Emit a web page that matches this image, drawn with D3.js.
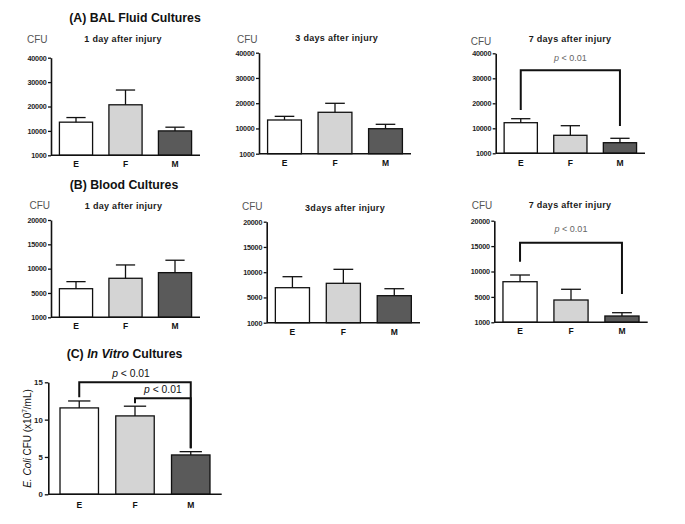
<!DOCTYPE html>
<html><head><meta charset="utf-8">
<script src="https://cdn.jsdelivr.net/npm/d3@7"></script>
<style>
body{margin:0;background:#fff}
svg{display:block;background:#fff}
text{font-family:"Liberation Sans",Arial,Helvetica,sans-serif}
</style>
</head><body>
<svg id="c" width="685" height="524"></svg>
<script>
// ---------- data ----------
const categories = ["E", "F", "M"];

const balDay1 = [13580, 20700, 10000];
const balDay1Sem = [1890, 6050, 1520];
const balDay3 = [13350, 16400, 9900];
const balDay3Sem = [1450, 3560, 1740];
const balDay7 = [12240, 7200, 4240];
const balDay7Sem = [1600, 3840, 1760];

const bloodDay1 = [5880, 8020, 9180];
const bloodDay1Sem = [1450, 2740, 2550];
const bloodDay3 = [6930, 7800, 5350];
const bloodDay3Sem = [2180, 2770, 1380];
const bloodDay7 = [7990, 4390, 1240];
const bloodDay7Sem = [1320, 2110, 650];

const vitro = [11.57, 10.5, 5.27];
const vitroSem = [0.93, 1.3, 0.44];

const balTicks = [0, 10000, 20000, 30000, 40000];
const balTickLabels = ["1000", "10000", "20000", "30000", "40000"];
const bloodTicks = [0, 5000, 10000, 15000, 20000];
const bloodTickLabels = ["1000", "5000", "10000", "15000", "20000"];
const vitroTicks = [0, 5, 10, 15];
const vitroTickLabels = ["0", "5", "10", "15"];

const subtitles = ["1 day after injury", "3 days after injury", "7 days after injury",
                   "1 day after injury", "3days after injury", "7 days after injury"];

// significance brackets: [from, to, bracket level, left leg end, right leg end]
const balDay7Sig = [["E", "M", 33200, 17320, 10920]];
const bloodDay7Sig = [["E", "M", 15670, 11930, 5570]];
const vitroSig = [["E", "M", 15.0, 13.0, 6.17], ["F", "M", 12.87, 12.2, 6.17]];

const barColors = ["#ffffff", "#d4d4d4", "#5a5a5a"];

// ---------- drawing ----------
const svg = d3.select("#c");

function panel(cfg) {
  const g = svg.append("g");
  const x = d3.scaleBand().domain(categories).range([cfg.x0, cfg.x1])
    .paddingInner(cfg.pi).paddingOuter(cfg.po);
  const y = d3.scaleLinear().domain([0, cfg.max]).range([cfg.yb, cfg.yt]);
  const bw = x.bandwidth();

  g.selectAll("rect.bar").data(cfg.values).join("rect")
    .attr("class", "bar")
    .attr("x", (d, i) => x(categories[i]))
    .attr("y", d => y(d))
    .attr("width", bw)
    .attr("height", d => y(0) - y(d))
    .attr("fill", (d, i) => barColors[i])
    .attr("stroke", "#111").attr("stroke-width", 1.3);

  const capW = bw * 0.58;
  const eb = g.selectAll("g.err").data(cfg.values).join("g").attr("class", "err");
  eb.append("line")
    .attr("x1", (d, i) => x(categories[i]) + bw / 2)
    .attr("x2", (d, i) => x(categories[i]) + bw / 2)
    .attr("y1", d => y(d))
    .attr("y2", (d, i) => y(d + cfg.sem[i]))
    .attr("stroke", "#111").attr("stroke-width", 1.3);
  eb.append("line")
    .attr("x1", (d, i) => x(categories[i]) + bw / 2 - capW / 2)
    .attr("x2", (d, i) => x(categories[i]) + bw / 2 + capW / 2)
    .attr("y1", (d, i) => y(d + cfg.sem[i]))
    .attr("y2", (d, i) => y(d + cfg.sem[i]))
    .attr("stroke", "#111").attr("stroke-width", 1.3);

  // y axis
  const ya = g.append("g").attr("transform", `translate(${cfg.x0},0)`)
    .call(d3.axisLeft(y).tickValues(cfg.ticks)
      .tickFormat((d, i) => cfg.tickLabels[i])
      .tickSize(cfg.tickSize).tickSizeOuter(0).tickPadding(cfg.tickPad));
  ya.select(".domain").attr("stroke", "#111").attr("stroke-width", 1.6);
  ya.selectAll(".tick line").attr("stroke", "#111").attr("stroke-width", 1.3);
  ya.selectAll(".tick text").attr("font-size", cfg.tickFont).attr("font-weight", "bold")
    .attr("fill", "#222").attr("font-family", '"Liberation Sans", Arial, sans-serif')
    .attr("letter-spacing", cfg.tickLS || 0);

  // x axis
  const xa = g.append("g").attr("transform", `translate(0,${cfg.yb})`)
    .call(d3.axisBottom(x).tickSize(0).tickSizeOuter(0).tickPadding(cfg.xPad));
  xa.select(".domain").attr("stroke", "#111").attr("stroke-width", 1.6)
    .attr("d", `M${cfg.x0},0H${cfg.x1}`);
  xa.selectAll(".tick text").attr("font-size", cfg.xFont).attr("font-weight", "bold")
    .attr("fill", "#111").attr("font-family", '"Liberation Sans", Arial, sans-serif');

  // subtitle
  if (cfg.subtitle) {
    g.append("text").attr("x", cfg.subX).attr("y", cfg.subY)
      .attr("text-anchor", "middle").attr("font-size", 9).attr("font-weight", "bold")
      .attr("letter-spacing", 0.3).attr("fill", "#1a1a1a").text(cfg.subtitle);
  }
  if (cfg.cfuX !== undefined) {
    g.append("text").attr("x", cfg.cfuX).attr("y", cfg.cfuY)
      .attr("font-size", 10).attr("fill", "#555").text("CFU");
  }

  // significance brackets
  (cfg.sig || []).forEach((s, k) => {
    const xl = x(s[0]) + bw / 2, xr = x(s[1]) + bw / 2;
    g.append("path")
      .attr("d", `M${xl},${y(s[3])}V${y(s[2])}H${xr}V${y(s[4])}`)
      .attr("fill", "none").attr("stroke", "#111").attr("stroke-width", 2);
    const lab = cfg.sigLabels[k];
    const t = g.append("text").attr("x", lab.dx !== undefined ? lab.dx + (xl + xr) / 2 : (xl + xr) / 2)
      .attr("y", y(s[2]) - lab.off)
      .attr("text-anchor", "middle").attr("font-size", lab.size).attr("fill", lab.color);
    t.append("tspan").attr("font-style", "italic").text("p");
    t.append("tspan").text(" < 0.01");
  });
  return { x, y };
}

const common = { pi: 0.33, po: 0.17, tickSize: 3, tickPad: 1.5, tickFont: 7.2, xFont: 8.5, tickLS: -0.2 };

// (A) BAL
panel(Object.assign({}, common, { x0: 51, x1: 200, yt: 57.7, yb: 155.3, max: 40000,
  values: balDay1, sem: balDay1Sem, ticks: balTicks, tickLabels: balTickLabels,
  xPad: 5.6, subtitle: subtitles[0], subX: 123, subY: 42, cfuX: 27, cfuY: 42.7 }));
panel(Object.assign({}, common, { x0: 259, x1: 411, yt: 52.7, yb: 153.7, max: 40000,
  values: balDay3, sem: balDay3Sem, ticks: balTicks, tickLabels: balTickLabels,
  xPad: 6, subtitle: subtitles[1], subX: 336.7, subY: 41, cfuX: 237, cfuY: 42.7 }));
panel(Object.assign({}, common, { x0: 495.7, x1: 645, yt: 53.3, yb: 153.3, max: 40000,
  values: balDay7, sem: balDay7Sem, ticks: balTicks, tickLabels: balTickLabels,
  xPad: 6.3, subtitle: subtitles[2], subX: 570, subY: 41.5, cfuX: 470.7, cfuY: 45,
  sig: balDay7Sig, sigLabels: [{ off: 9, size: 9, color: "#666" }] }));

// (B) Blood
panel(Object.assign({}, common, { x0: 51, x1: 200, yt: 220, yb: 317.3, max: 20000,
  values: bloodDay1, sem: bloodDay1Sem, ticks: bloodTicks, tickLabels: bloodTickLabels,
  xPad: 6, subtitle: subtitles[3], subX: 123.5, subY: 209, cfuX: 29.5, cfuY: 209.3 }));
panel(Object.assign({}, common, { x0: 266.7, x1: 420, yt: 221.7, yb: 322.7, max: 20000,
  values: bloodDay3, sem: bloodDay3Sem, ticks: bloodTicks, tickLabels: bloodTickLabels,
  xPad: 5.8, subtitle: subtitles[4], subX: 345, subY: 211, cfuX: 242, cfuY: 210.3 }));
panel(Object.assign({}, common, { x0: 494.3, x1: 647.7, yt: 220.7, yb: 322.3, max: 20000,
  values: bloodDay7, sem: bloodDay7Sem, ticks: bloodTicks, tickLabels: bloodTickLabels,
  xPad: 5.2, subtitle: subtitles[5], subX: 570, subY: 208, cfuX: 471.7, cfuY: 208.7,
  sig: bloodDay7Sig, sigLabels: [{ off: 11, size: 9, color: "#666" }] }));

// (C) In vitro
panel(Object.assign({}, common, { x0: 48.3, x1: 221.7, yt: 382.3, yb: 494.3, max: 15,
  pi: 0.31, po: 0.21, tickSize: 3.5, tickPad: 2, tickFont: 7.8, tickLS: 0,
  values: vitro, sem: vitroSem, ticks: vitroTicks, tickLabels: vitroTickLabels,
  xPad: 7.2, sig: vitroSig,
  sigLabels: [{ off: 5, size: 10.3, color: "#111", dx: -4 }, { off: 5, size: 10.3, color: "#111" }] }));

// Titles
function title(xc, yb, parts) {
  const t = svg.append("text").attr("x", xc).attr("y", yb).attr("text-anchor", "middle")
    .attr("font-size", 12.3).attr("font-weight", "bold").attr("fill", "#111");
  parts.forEach(p => t.append("tspan").attr("font-style", p[1] ? "italic" : "normal").text(p[0]));
}
title(135, 22, [["(A) BAL Fluid Cultures", false]]);
title(124, 189, [["(B) Blood Cultures", false]]);
title(124.5, 358, [["(C) ", false], ["In Vitro", true], [" Cultures", false]]);

// C y-axis label
const yl = svg.append("text").attr("transform", "translate(31,438.5) rotate(-90)")
  .attr("text-anchor", "middle").attr("font-size", 10).attr("fill", "#111");
yl.append("tspan").attr("font-style", "italic").text("E. Coli");
yl.append("tspan").text(" CFU (x10");
yl.append("tspan").attr("font-size", 6.5).attr("dy", -4).text("7");
yl.append("tspan").attr("dy", 4).text("/mL)");
</script>
</body></html>
